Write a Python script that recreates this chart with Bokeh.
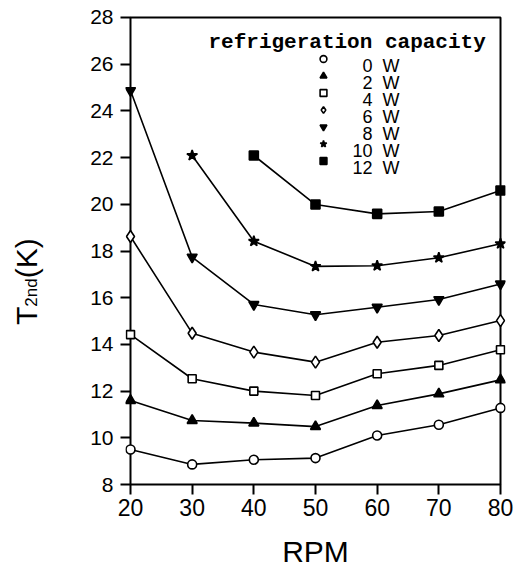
from bokeh.plotting import figure
from bokeh.models import (Range1d, FixedTicker, Legend, LegendItem, Label, Div,
                          BoxAnnotation)
from bokeh.layouts import row
from bokeh.embed import file_html
from bokeh.resources import INLINE

rpm = [20, 30, 40, 50, 60, 70, 80]
cap_labels = ["0", "2", "4", "6", "8", "10", "12"]
t_0w = [9.50, 8.86, 9.06, 9.13, 10.10, 10.56, 11.28]
t_2w = [11.60, 10.74, 10.63, 10.48, 11.38, 11.88, 12.48]
t_4w = [14.42, 12.53, 12.00, 11.81, 12.74, 13.10, 13.77]
t_6w = [18.62, 14.48, 13.67, 13.24, 14.09, 14.38, 15.02]
t_8w = [24.87, 17.74, 15.71, 15.27, 15.59, 15.92, 16.59]
t_10w_rpm = [30, 40, 50, 60, 70, 80]
t_10w = [22.09, 18.42, 17.34, 17.37, 17.71, 18.31]
t_12w_rpm = [40, 50, 60, 70, 80]
t_12w = [22.09, 19.99, 19.59, 19.69, 20.59]
y_ticks = [8, 10, 12, 14, 16, 18, 20, 22, 24, 26, 28]
x_ticks = [20, 30, 40, 50, 60, 70, 80]

series = [
    (rpm, t_0w, "circle", "white", 9),
    (rpm, t_2w, "triangle", "black", 10),
    (rpm, t_4w, "square", "white", 8),
    (rpm, t_6w, "diamond", "white", 12),
    (rpm, t_8w, "inverted_triangle", "black", 10),
    (t_10w_rpm, t_10w, "star", "black", 11),
    (t_12w_rpm, t_12w, "square", "black", 9),
]

# small padding so that edge markers are not clipped; the drawn box sits on the tick extremes
x_pad, y_pad = 0.81, 0.214
p = figure(width=464, height=570, output_backend="svg", toolbar_location=None,
           x_range=Range1d(x_ticks[0] - x_pad, x_ticks[-1] + x_pad),
           y_range=Range1d(y_ticks[0] - y_pad, y_ticks[-1] + y_pad),
           min_border_left=65, min_border_right=19, min_border_top=12,
           min_border_bottom=81, margin=0)
p.grid.visible = False
p.outline_line_color = None
p.background_fill_color = "white"
p.border_fill_color = "white"

for ax in (p.xaxis, p.yaxis):
    ax.axis_line_color = None
    ax.major_tick_line_width = 2
    ax.major_tick_line_color = "black"
    ax.major_tick_in = 5
    ax.major_tick_out = 5
    ax.minor_tick_line_color = None
    ax.major_label_text_font = "Liberation Sans"
    ax.major_label_text_color = "black"
p.xaxis.ticker = FixedTicker(ticks=x_ticks)
p.yaxis.ticker = FixedTicker(ticks=y_ticks)
p.xaxis.major_label_text_font_size = "23px"
p.yaxis.major_label_text_font_size = "21px"
p.xaxis.major_label_standoff = 4
p.yaxis.major_label_standoff = 7
p.xaxis.axis_label = "RPM"
p.xaxis.axis_label_text_font = "Liberation Sans"
p.xaxis.axis_label_text_font_style = "normal"
p.xaxis.axis_label_text_font_size = "30px"
p.xaxis.axis_label_text_color = "black"
p.xaxis.axis_label_standoff = 16

p.add_layout(BoxAnnotation(left=x_ticks[0], right=x_ticks[-1],
                           bottom=y_ticks[0], top=y_ticks[-1],
                           fill_color=None, fill_alpha=0, level="underlay",
                           line_color="black", line_width=2, line_alpha=1))

items = []
for xs, ys, marker, fill, size in series:
    p.line(xs, ys, line_color="black", line_width=1.6)
    r = p.scatter(xs, ys, marker=marker, size=size, line_color="black",
                  fill_color=fill, line_width=1.6)
    items.append(LegendItem(label=" ", renderers=[r]))

leg = Legend(items=items, location=(189, 320), orientation="vertical",
             glyph_width=18, glyph_height=17, label_height=1, spacing=0,
             padding=0, margin=0, label_standoff=0, label_width=1,
             label_text_font_size="1px",
             background_fill_alpha=0, border_line_alpha=0)
p.add_layout(leg, "center")

# legend texts (screen units relative to the frame, y upward from its bottom)
for i, lab in enumerate(cap_labels):
    yb = 424 - 17 * i
    p.add_layout(Label(x=247, y=yb, x_units="screen", y_units="screen", text=lab,
                       text_font="Liberation Sans", text_font_size="18px",
                       text_color="black",
                       text_align="right", text_baseline="alphabetic"))
    p.add_layout(Label(x=257, y=yb, x_units="screen", y_units="screen", text="W",
                       text_font="Liberation Sans", text_font_size="18px",
                       text_color="black",
                       text_align="left", text_baseline="alphabetic"))

p.add_layout(Label(x=83, y=447, x_units="screen", y_units="screen",
                   text="refrigeration capacity",
                   text_font="Liberation Mono", text_font_style="bold",
                   text_font_size="21px", text_color="black",
                   text_align="left", text_baseline="alphabetic"))

ylabel_html = (
    '<div style="position:absolute; left:10px; top:325px; transform:rotate(-90deg); '
    'transform-origin:0 0; white-space:nowrap; font-family:\'Liberation Sans\'; '
    'font-size:30px; line-height:34px; color:black;">'
    'T<span style="font-size:17px">2nd</span>(K)</div>'
)
div = Div(text=ylabel_html, width=60, height=570, margin=0)

layout = row(div, p, spacing=0)
open("out.html", "w").write(file_html(layout, INLINE))
